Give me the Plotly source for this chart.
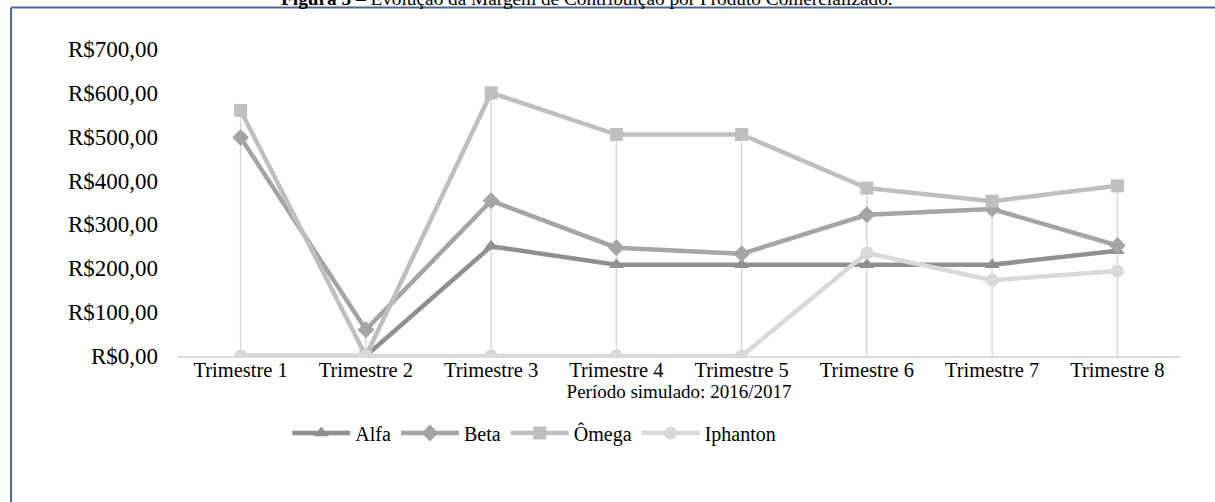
import plotly.graph_objects as go

categories = ["Trimestre 1", "Trimestre 2", "Trimestre 3", "Trimestre 4",
              "Trimestre 5", "Trimestre 6", "Trimestre 7", "Trimestre 8"]
alfa = [0, 0, 250, 208, 208, 208, 208, 240]
beta = [498, 60, 354, 247, 233, 322, 335, 252]
omega = [560, 0, 600, 505, 505, 383, 353, 388]
iphanton = [0, 0, 0, 0, 0, 235, 173, 194]
y_ticks = [0, 100, 200, 300, 400, 500, 600, 700]
y_tick_labels = ["R$0,00", "R$100,00", "R$200,00", "R$300,00",
                 "R$400,00", "R$500,00", "R$600,00", "R$700,00"]

W, H = 1215, 502
ML, MR, MT, MB = 177.5, 35, 49, 146
PW = W - ML - MR
PH = H - MT - MB

FONT = "Liberation Serif"

fig = go.Figure()

# drop lines (from axis up to the highest series value)
drop_x, drop_y = [], []
for i, c in enumerate(categories):
    top = max(alfa[i], beta[i], omega[i], iphanton[i])
    drop_x += [c, c, None]
    drop_y += [0, top, None]
fig.add_trace(go.Scatter(x=drop_x, y=drop_y, mode="lines",
                         line=dict(color="#d9d9d9", width=1.5),
                         showlegend=False, hoverinfo="skip"))

series = [
    ("Alfa", alfa, "#909092", "triangle-up"),
    ("Beta", beta, "#a5a5a5", "diamond"),
    ("Ômega", omega, "#bfbfbf", "square"),
    ("Iphanton", iphanton, "#d9d9d9", "circle"),
]
for name, vals, col, sym in series:
    fig.add_trace(go.Scatter(x=categories, y=vals, name=name, mode="lines+markers",
                             line=dict(color=col, width=4.5),
                             marker=dict(color=col, symbol=sym, size=13)))


def px_x(px):
    return (px - ML) / PW


def px_y(py):
    return (H - MB - py) / PH


fig.update_layout(
    width=W, height=H,
    margin=dict(l=ML, r=MR, t=MT, b=MB, pad=0),
    paper_bgcolor="white", plot_bgcolor="white",
    font=dict(family=FONT, size=20, color="#000000"),
    xaxis=dict(
        type="category", showgrid=False, showline=True, linecolor="#d9d9d9",
        linewidth=1.5, ticks="", tickfont=dict(size=20.5, family=FONT),
        ticklabelstandoff=-5,
        title=dict(text="Período simulado: 2016/2017", font=dict(size=19, family=FONT), standoff=4),
        range=[-0.5, 7.5], zeroline=False,
    ),
    yaxis=dict(
        range=[0, 700], tickvals=y_ticks, ticktext=y_tick_labels,
        showgrid=False, showline=False, zeroline=False, ticks="",
        tickfont=dict(size=23, family=FONT), ticklabelstandoff=19,
    ),
    legend=dict(orientation="h", x=px_x(534), xanchor="center", y=px_y(433), yanchor="middle",
                font=dict(size=20, family=FONT), itemwidth=58, tracegroupgap=0),
    showlegend=True,
    shapes=[
        dict(type="line", xref="paper", yref="paper", x0=px_x(10.5), x1=px_x(1215), y0=px_y(7.5), y1=px_y(7.5),
             line=dict(color="#4a6891", width=2)),
        dict(type="line", xref="paper", yref="paper", x0=px_x(10.5), x1=px_x(10.5), y0=px_y(7.5), y1=px_y(502),
             line=dict(color="#4a6891", width=2)),
    ],
    annotations=[
        dict(text="<b>Figura 5</b> – Evolução da Margem de Contribuição por Produto Comercializado.",
             xref="paper", yref="paper", x=px_x(587), y=px_y(-1), xanchor="center", yanchor="middle",
             showarrow=False, font=dict(size=19.3, family=FONT, color="#000000")),
    ],
)

fig.write_html("out.html", config={"displayModeBar": False},
               post_script="document.body.style.margin='0';document.body.style.padding='0';")
